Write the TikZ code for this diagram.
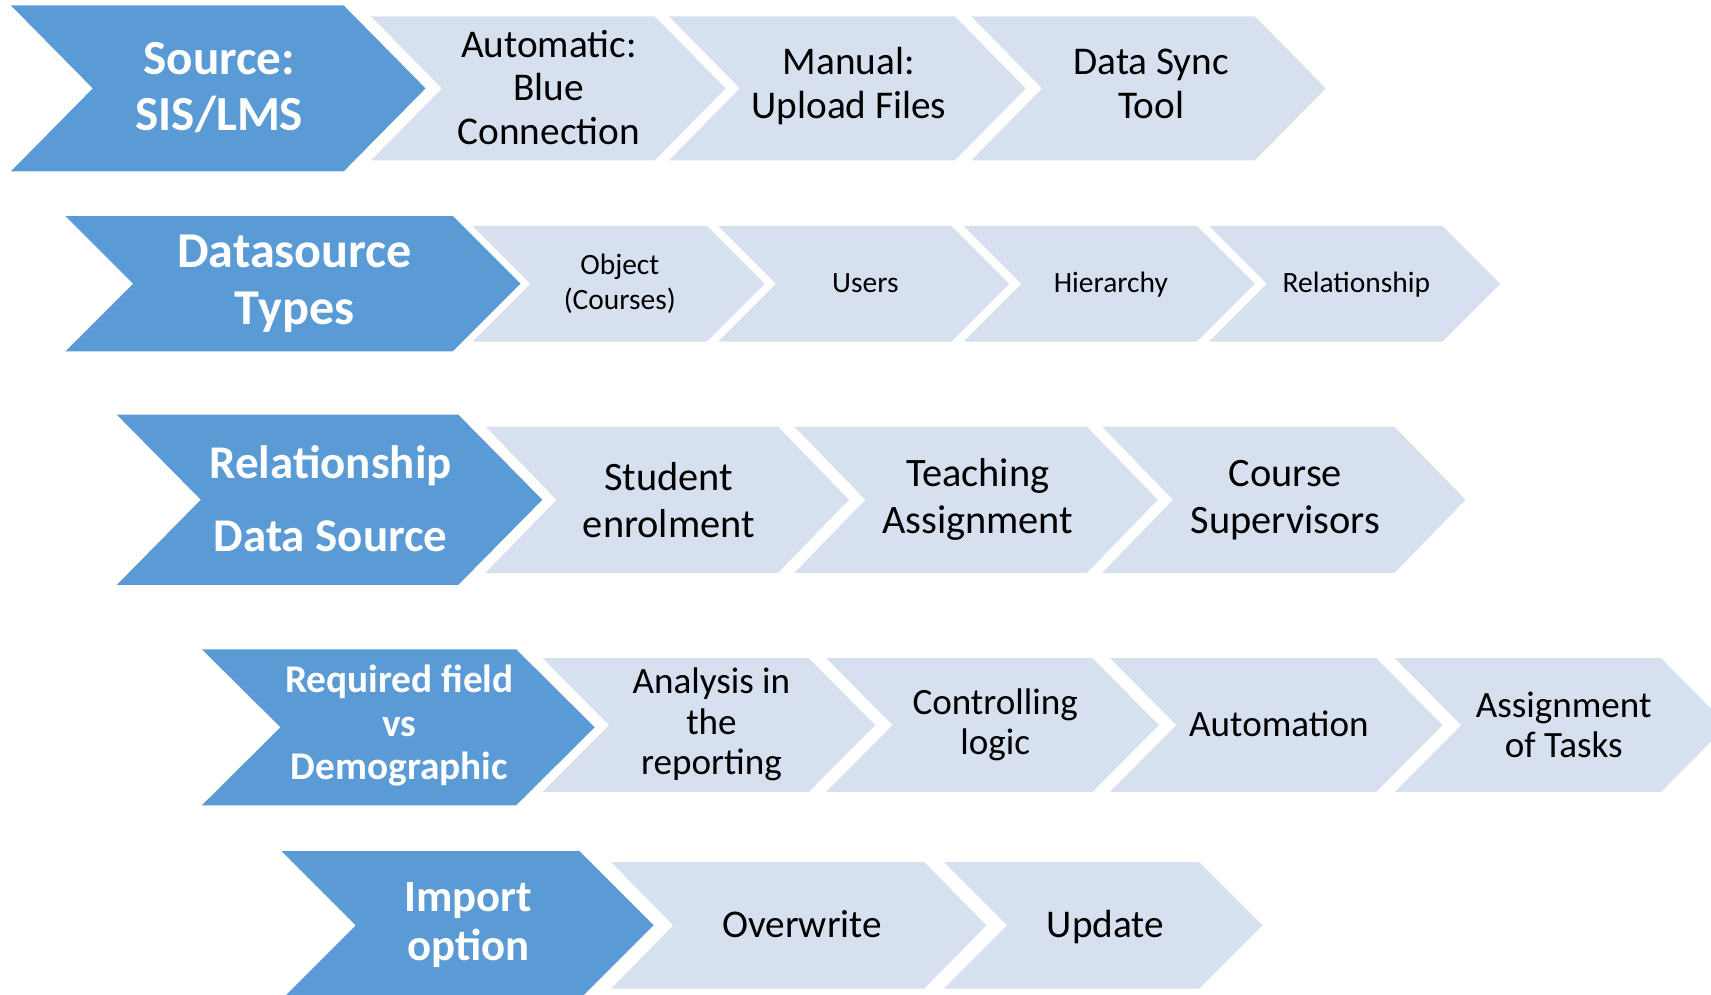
\documentclass[tikz,border=0pt]{standalone}
\usepackage{fontspec}
\setmainfont{Carlito}
\definecolor{darkb}{HTML}{5B9BD5}
\definecolor{lightb}{HTML}{D6E0EF}
\newcommand\mychev[6]{%
  \fill[#6] (#1,#2) -- (#4,#2) -- (#5,{(#2+#3)/2}) -- (#4,#3) -- (#1,#3) -- ({#1+#5-#4},{(#2+#3)/2}) -- cycle;}
\tikzset{
  hd/.style={text=white, font=\bfseries, align=center, inner sep=0pt},
  it/.style={text=black, align=center, inner sep=0pt},
  one/.style={text height=#1, text depth=0pt},
}
\begin{document}
\begin{tikzpicture}[x=1pt,y=-1pt]
\useasboundingbox (0,0) rectangle (1568,911);
\clip (0,0) rectangle (1568,911);
% Row 1
\mychev{10}{5}{157}{315}{390}{darkb}
\mychev{340}{15}{147}{600}{665}{lightb}
\mychev{613}{15}{147}{875}{940}{lightb}
\mychev{890}{15}{147}{1150}{1215}{lightb}
\node[hd, font=\bfseries\fontsize{45}{51}\selectfont] (h1) at (201,80) {Source:\\SIS/LMS};
\node[it, font=\fontsize{36}{40}\selectfont] (a1) at (503,80) {Automatic:\\Blue\\Connection};
\node[it, font=\fontsize{36}{40}\selectfont] (a2) at (778,79) {Manual:\\Upload Files};
\node[it, font=\fontsize{36}{40}\selectfont] (a3) at (1055,77) {Data Sync\\Tool};
% Row 2
\mychev{60}{198}{322}{415}{477}{darkb}
\mychev{433}{207}{313}{648}{701}{lightb}
\mychev{658}{207}{313}{872}{925}{lightb}
\mychev{883}{207}{313}{1097}{1150}{lightb}
\mychev{1108}{207}{313}{1322}{1375}{lightb}
\node[hd, font=\bfseries\fontsize{46}{52}\selectfont] (h2) at (270,260) {Datasource\\Types};
\node[it, font=\fontsize{27}{32}\selectfont] (b1) at (568,260) {Object\\(Courses)};
\node[it, one=17pt, font=\fontsize{27}{32}\selectfont] (b2) at (793,260) {Users};
\node[it, one=17pt, font=\fontsize{27}{32}\selectfont] (b3) at (1018,260) {Hierarchy};
\node[it, one=17pt, font=\fontsize{27}{32}\selectfont] (b4) at (1243,260) {Relationship};
% Row 3
\mychev{107}{380}{536}{420}{497}{darkb}
\mychev{445}{391}{525}{713}{778}{lightb}
\mychev{728}{391}{525}{996}{1061}{lightb}
\mychev{1010}{391}{525}{1278}{1343}{lightb}
\node[hd, font=\bfseries\fontsize{43}{67}\selectfont] (h3) at (303,457) {Relationship\\Data Source};
\node[it, font=\fontsize{37}{43}\selectfont] (c1) at (613,458) {Student\\enrolment};
\node[it, font=\fontsize{37}{43}\selectfont] (c2) at (896,458) {Teaching\\Assignment};
\node[it, font=\fontsize{37}{43}\selectfont] (c3) at (1178,458) {Course\\Supervisors};
% Row 4
\mychev{185}{595}{738}{473}{545}{darkb}
\mychev{497}{603}{726}{741}{802}{lightb}
\mychev{757}{603}{726}{1001}{1062}{lightb}
\mychev{1017}{603}{726}{1261}{1322}{lightb}
\mychev{1278}{603}{726}{1522}{1583}{lightb}
\node[hd, font=\bfseries\fontsize{36}{40}\selectfont] (h4) at (366,665) {Required field\\vs\\Demographic};
\node[it, font=\fontsize{34}{37}\selectfont] (d1) at (652,664) {Analysis in\\the\\reporting};
\node[it, font=\fontsize{34}{37}\selectfont] (d2) at (912,664) {Controlling\\logic};
\node[it, one=21pt, font=\fontsize{34}{37}\selectfont] (d3) at (1172,664) {Automation};
\node[it, font=\fontsize{34}{37}\selectfont] (d4) at (1433,664) {Assignment\\of Tasks};
% Row 5
\mychev{258}{780}{916}{531}{599}{darkb}
\mychev{560}{790}{906}{847}{904}{lightb}
\mychev{865}{790}{906}{1099}{1157}{lightb}
\node[hd, font=\bfseries\fontsize{41}{45}\selectfont] (h5) at (429,848) {Import\\option};
\node[it, one=22pt, font=\fontsize{36}{40}\selectfont] (e1) at (735,848) {Overwrite};
\node[it, one=22pt, font=\fontsize{36}{40}\selectfont] (e2) at (1013,848) {Update};
\end{tikzpicture}
\end{document}
